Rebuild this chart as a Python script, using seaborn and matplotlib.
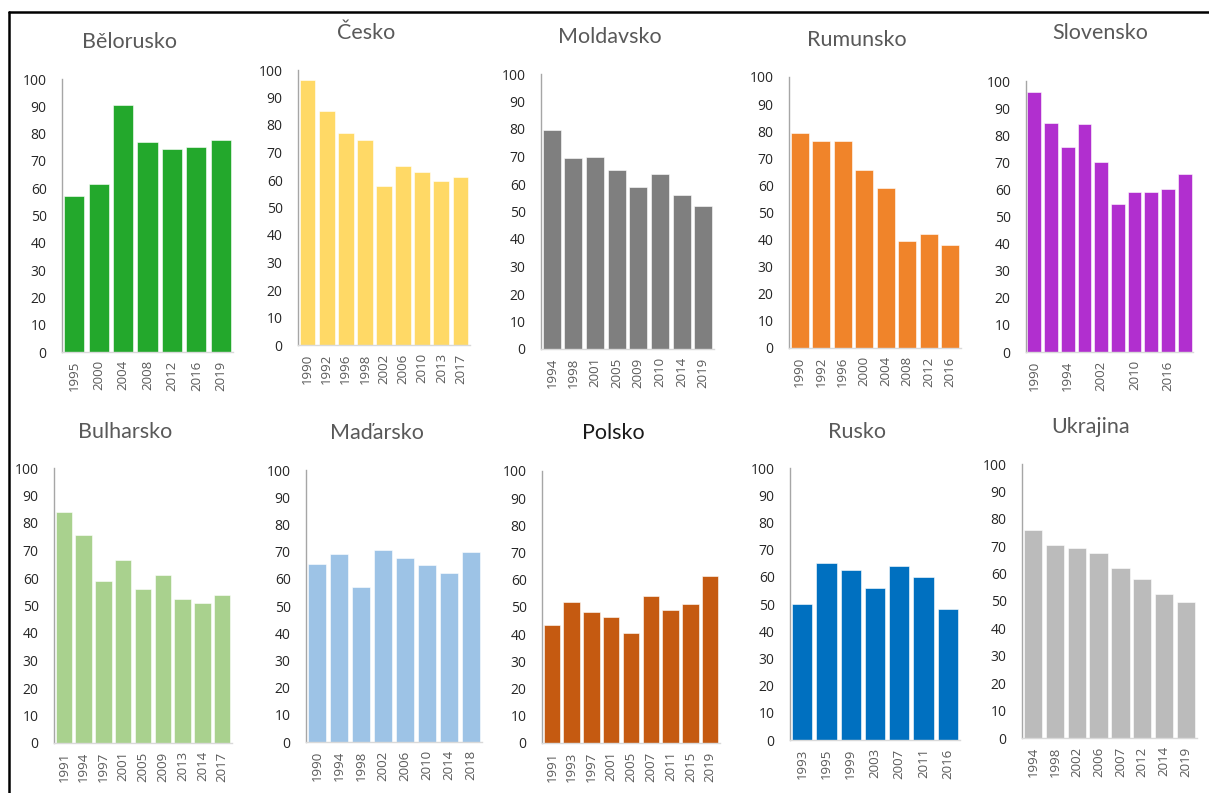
import matplotlib
matplotlib.use('Agg')
import matplotlib.pyplot as plt
import seaborn as sns
from matplotlib.lines import Line2D

# data
countries = ['Bělorusko', 'Česko', 'Moldavsko', 'Rumunsko', 'Slovensko',
             'Bulharsko', 'Maďarsko', 'Polsko', 'Rusko', 'Ukrajina']

belorusko_years = ['1995', '2000', '2004', '2008', '2012', '2016', '2019']
belorusko_vals = [57, 61.5, 90.5, 77, 74.5, 75, 77.5]

cesko_years = ['1990', '1992', '1996', '1998', '2002', '2006', '2010', '2013', '2017']
cesko_vals = [96.5, 85, 77, 74.5, 58, 65, 63, 59.5, 61]

moldavsko_years = ['1994', '1998', '2001', '2005', '2009', '2010', '2014', '2019']
moldavsko_vals = [79.5, 69.5, 70, 65, 59, 63.5, 56, 52]

rumunsko_years = ['1990', '1992', '1996', '2000', '2004', '2008', '2012', '2016']
rumunsko_vals = [79.5, 76.5, 76.5, 65.5, 59, 39.5, 42, 38]

slovensko_years = ['1990', '1992', '1994', '1998', '2002', '2006', '2010', '2012', '2016', '2020']
slovensko_vals = [96, 84.5, 75.5, 84, 70, 54.5, 59, 59, 60, 65.5]

bulharsko_years = ['1991', '1994', '1997', '2001', '2005', '2009', '2013', '2014', '2017']
bulharsko_vals = [84, 75.5, 59, 66.5, 56, 61, 52.5, 51, 54]

madarsko_years = ['1990', '1994', '1998', '2002', '2006', '2010', '2014', '2018']
madarsko_vals = [65.5, 69, 57, 70.5, 67.5, 65, 62, 70]

polsko_years = ['1991', '1993', '1997', '2001', '2005', '2007', '2011', '2015', '2019']
polsko_vals = [43.5, 52, 48, 46.5, 40.5, 54, 49, 51, 61.5]

rusko_years = ['1993', '1995', '1999', '2003', '2007', '2011', '2016']
rusko_vals = [50, 65, 62.5, 56, 64, 60, 48]

ukrajina_years = ['1994', '1998', '2002', '2006', '2007', '2012', '2014', '2019']
ukrajina_vals = [76, 70.5, 69.5, 67.5, 62, 58, 52.5, 49.5]

years = [belorusko_years, cesko_years, moldavsko_years, rumunsko_years, slovensko_years,
         bulharsko_years, madarsko_years, polsko_years, rusko_years, ukrajina_years]
values = [belorusko_vals, cesko_vals, moldavsko_vals, rumunsko_vals, slovensko_vals,
          bulharsko_vals, madarsko_vals, polsko_vals, rusko_vals, ukrajina_vals]
colors = ['#23A82C', '#FFD966', '#7F7F7F', '#F0842A', '#B12FCF',
          '#A9D18E', '#9DC3E6', '#C55A11', '#0070C0', '#BBBBBB']

# pixel layout of each panel: axis x, right end, y of 100, y of 0, title x, title y
W, H = 1209, 793
layout = [
    (62, 233, 79, 352, 130, 42),
    (298, 470, 70, 345, 366, 33),
    (541, 714, 74, 349, 610, 37),
    (789, 961, 77, 348, 857, 40),
    (1026, 1193, 81, 352, 1100, 33),
    (54, 232, 468, 743, 125, 432),
    (306, 482, 470, 742, 377, 433),
    (542, 720, 471, 743, 613, 433),
    (790, 960, 468, 740, 857, 432),
    (1022, 1197, 464, 738, 1091, 427),
]

sns.set_theme(style='white')
plt.rcParams['font.family'] = ['Open Sans', 'DejaVu Sans']

fig = plt.figure(figsize=(W / 100, H / 100), dpi=100)
fig.patch.set_facecolor('white')

for i, name in enumerate(countries):
    x0, x1, y100, y0, tx, ty = layout[i]
    ax = fig.add_axes([x0 / W, 1 - y0 / H, (x1 - x0) / W, (y0 - y100) / H])
    sns.barplot(x=years[i], y=values[i], color=colors[i], saturation=1,
                width=0.83, ax=ax, edgecolor='white', linewidth=0.4)
    ax.set_ylim(0, 100)
    ax.set_xlim(-0.5, len(values[i]) - 0.5)
    ax.set_yticks(range(0, 101, 10))
    ax.set_facecolor('white')
    for s in ['top', 'right']:
        ax.spines[s].set_visible(False)
    ax.spines['left'].set_color('#A6A6A6')
    ax.spines['left'].set_linewidth(1.0)
    ax.spines['bottom'].set_color('#D9D9D9')
    ax.spines['bottom'].set_linewidth(1.0)
    ax.tick_params(axis='y', length=0, pad=11, labelsize=10, labelcolor='#262626')
    ax.tick_params(axis='x', length=0, pad=6, labelsize=9.5, labelcolor='#595959',
                   rotation=90)
    if name == 'Slovensko':
        ax.set_xticks(range(len(values[i])))
        ax.set_xticklabels([y if k % 2 == 0 else '' for k, y in enumerate(years[i])])
    ax.set_xlabel('')
    ax.set_ylabel('')
    tcol = '#1A1A1A' if name == 'Polsko' else '#595959'
    fig.text(tx / W, 1 - ty / H, name, ha='center', va='center', fontsize=15.5,
             color=tcol, family=['Lato', 'DejaVu Sans'])

# black frame around the picture (top and left edges visible)
fig.add_artist(Line2D([9 / W, 1], [1 - 12 / H, 1 - 12 / H], color='black', lw=1.8))
fig.add_artist(Line2D([9 / W, 9 / W], [0, 1 - 12 / H], color='black', lw=1.8))

fig.savefig('out.png', dpi=100)
